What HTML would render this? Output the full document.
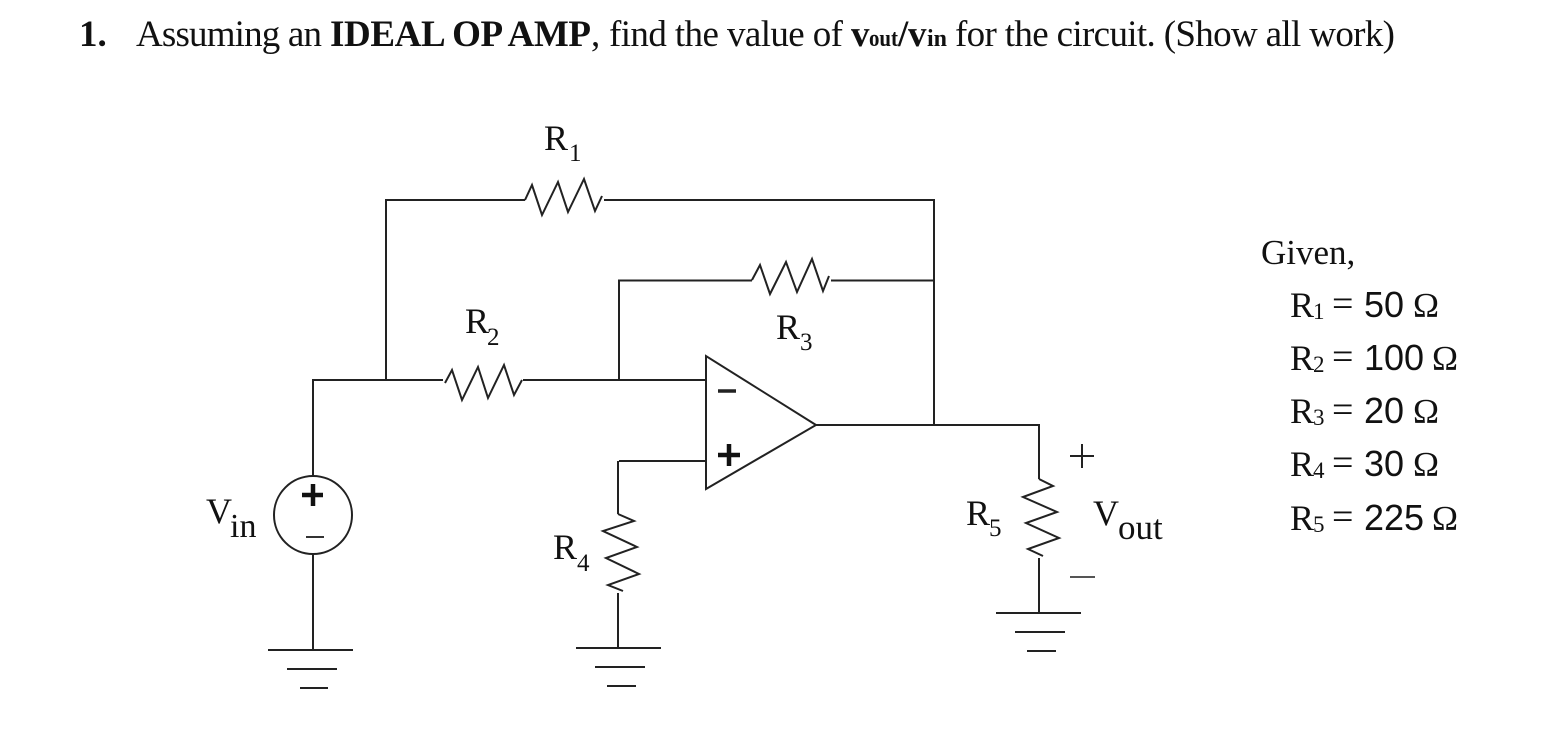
<!DOCTYPE html>
<html lang="en">
<head>
<meta charset="utf-8">
<title>Ideal op amp circuit</title>
<style>
html,body{margin:0;padding:0;background:#fff;width:1544px;height:746px;overflow:hidden}
svg{display:block}
text{font-family:"Liberation Serif",serif;fill:#111}
.w{fill:none;stroke:#222;stroke-width:2;stroke-linejoin:miter}
.b{font-weight:bold}
.s{font-family:"Liberation Sans",sans-serif}
</style>
</head>
<body>
<svg width="1544" height="746" viewBox="0 0 1544 746" xmlns="http://www.w3.org/2000/svg">
<rect width="1544" height="746" fill="#fff"/>

<!-- Title -->
<g font-size="37">
<text class="b" x="79" y="46">1.</text>
<text x="136" y="46" textLength="186" lengthAdjust="spacing">Assuming an</text>
<text class="b" x="330" y="46" textLength="261" lengthAdjust="spacing">IDEAL OP AMP</text>
<text x="591" y="46">,</text>
<text x="609" y="46" textLength="234" lengthAdjust="spacing">find the value of</text>
<text class="b" x="851" y="46">v</text>
<text class="b" x="869" y="46" font-size="24" textLength="29" lengthAdjust="spacingAndGlyphs">out</text>
<text class="b" x="898" y="46">/</text>
<text class="b" x="908" y="46">v</text>
<text class="b" x="927" y="46" font-size="24">in</text>
<text x="955" y="46" textLength="440" lengthAdjust="spacing">for the circuit. (Show all work)</text>
</g>

<!-- Wires -->
<path class="w" d="M525 200H386V380M604 200H934V425M312 380H443M523 380H706M619 380V280.5H752M831 280.5H934"/>
<path class="w" d="M816 425H1039V479M619 461H706M618 461V514M618 593V648M313 380V476M313 554V650M1039 558V613"/>

<!-- Resistors -->
<path class="w" d="M525 200L532 185L542 215L558 182L568 212L584 179L595 211L602 196"/>
<path class="w" d="M445 383L452 370L462 400L478 367L488 398L504 365L514 395L522 380"/>
<path class="w" d="M752 280L760 265L770 294L786 262L797 292L812 259L823 291L829 276"/>
<path class="w" d="M618 514L634 521L603 531L637 547L606 558L639 574L608 585L623 591"/>
<path class="w" d="M1039 479L1053 486L1023 497L1057 512L1026 523L1059 538L1028 549L1043 556"/>

<!-- Op amp -->
<path class="w" d="M706 356V489L816 425Z"/>
<path d="M718 391H736" stroke="#222" stroke-width="3.5" fill="none"/>
<path d="M718 455H740M729 444V466" stroke="#111" stroke-width="4.5" fill="none"/>

<!-- Source -->
<circle class="w" cx="313" cy="515" r="39"/>
<path d="M302 495H323M313 484V506" stroke="#111" stroke-width="4.5" fill="none"/>
<path d="M306 537H324" stroke="#333" stroke-width="2" fill="none"/>

<!-- Grounds -->
<path class="w" d="M268 650H353M287 669H337M300 688H328"/>
<path class="w" d="M576 648H661M595 667H645M607 686H636"/>
<path class="w" d="M996 613H1081M1015 632H1065M1027 651H1056"/>

<!-- Output polarity -->
<path d="M1070 456H1094M1082 444V468" stroke="#222" stroke-width="2" fill="none"/>
<path d="M1070 577H1095" stroke="#555" stroke-width="2" fill="none"/>

<!-- Circuit labels -->
<g font-size="36">
<text x="544" y="150">R</text><text x="569" y="161" font-size="25">1</text>
<text x="465" y="333">R</text><text x="487" y="345" font-size="25">2</text>
<text x="776" y="339">R</text><text x="800" y="350" font-size="25">3</text>
<text x="553" y="559">R</text><text x="577" y="571" font-size="25">4</text>
<text x="966" y="525">R</text><text x="989" y="536" font-size="25">5</text>
<text x="206" y="523">V</text><text x="230" y="537" font-size="34">in</text>
<text x="1093" y="525">V</text><text x="1118" y="539" font-size="35">out</text>
</g>

<!-- Given -->
<g font-size="36">
<text x="1261" y="264" font-size="35">Given,</text>

<text x="1290" y="317">R</text><text x="1313" y="319" font-size="23">1</text>
<text x="1332" y="316" font-size="38">=</text>
<text class="s" x="1364" y="317">50</text>
<text x="1413" y="317" font-size="35">Ω</text>

<text x="1290" y="370">R</text><text x="1313" y="372" font-size="23">2</text>
<text x="1332" y="369" font-size="38">=</text>
<text class="s" x="1364" y="370">100</text>
<text x="1432" y="370" font-size="35">Ω</text>

<text x="1290" y="423">R</text><text x="1313" y="425" font-size="23">3</text>
<text x="1332" y="422" font-size="38">=</text>
<text class="s" x="1364" y="423">20</text>
<text x="1413" y="423" font-size="35">Ω</text>

<text x="1290" y="476">R</text><text x="1313" y="478" font-size="23">4</text>
<text x="1332" y="475" font-size="38">=</text>
<text class="s" x="1364" y="476">30</text>
<text x="1413" y="476" font-size="35">Ω</text>

<text x="1290" y="530">R</text><text x="1313" y="532" font-size="23">5</text>
<text x="1332" y="529" font-size="38">=</text>
<text class="s" x="1364" y="530">225</text>
<text x="1432" y="530" font-size="35">Ω</text>
</g>
</svg>
</body>
</html>
